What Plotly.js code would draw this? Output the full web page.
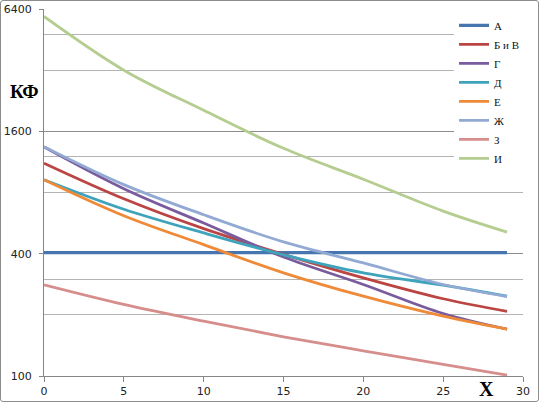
<!DOCTYPE html>
<html>
<head>
<meta charset="utf-8">
<script src="https://cdn.plot.ly/plotly-3.0.1.min.js"></script>
<style>
  html, body { margin: 0; padding: 0; background: #fff; }
  #chart { width: 537px; height: 400px; border: 1px solid #8c8c8c; border-radius: 3px; }
</style>
</head>
<body>
<div id="chart"></div>
<script>
// ---- data ----
const xValues = [0, 5, 10, 15, 20, 25, 29];
const seriesNames = ["А", "Б и В", "Г", "Д", "Е", "Ж", "З", "И"];
const valuesA   = [405, 405, 405, 405, 405, 405, 405];
const valuesBV  = [1115, 745, 531, 397, 304, 240, 208];
const valuesG   = [1340, 835, 566, 385, 282, 203, 170];
const valuesD   = [925, 662, 506, 395, 322, 280, 247];
const valuesE   = [925, 615, 443, 322, 247, 197, 170];
const valuesZh  = [1345, 875, 622, 457, 360, 282, 246];
const valuesZ   = [281, 225, 186, 156, 133, 114, 101];
const valuesI   = [5880, 3200, 2030, 1320, 930, 648, 511];
const yTickVals = [100, 400, 1600, 6400];
const yMinorVals = [200, 300, 800, 1200, 3200, 4800];
const xTickVals = [0, 5, 10, 15, 20, 25, 30];

const allValues = [valuesA, valuesBV, valuesG, valuesD, valuesE, valuesZh, valuesZ, valuesI];
const colors = ["#4675B0", "#BA4542", "#7A5C9E", "#3FA3BC", "#EE8A38", "#92AAD3", "#D68E8C", "#B5CD90"];

const traces = allValues.map((vals, i) => ({
  x: xValues,
  y: vals,
  name: seriesNames[i],
  type: "scatter",
  mode: "lines",
  line: { color: colors[i], width: i === 0 ? 3.2 : 2.8, shape: "spline", smoothing: 1 }
}));

const tickFont = { family: "DejaVu Sans", size: 11, color: "#222" };

const layout = {
  width: 539, height: 402,
  margin: { l: 43, r: 17, t: 8, b: 27 },
  paper_bgcolor: "rgba(0,0,0,0)",
  plot_bgcolor: "#fff",
  showlegend: true,
  legend: {
    x: 0.856, y: 0.995, xanchor: "left", yanchor: "top",
    bgcolor: "#fff", borderwidth: 0,
    font: { family: "Liberation Serif", size: 11, color: "#111" },
    itemwidth: 30, tracegroupgap: 0
  },
  xaxis: {
    range: [0, 30],
    tickmode: "array", tickvals: xTickVals,
    ticks: "outside", ticklen: 5, tickcolor: "#868686",
    showline: true, linecolor: "#868686", linewidth: 1,
    showgrid: false, zeroline: false,
    tickfont: tickFont
  },
  yaxis: {
    type: "log",
    range: [Math.log10(100), Math.log10(6400)],
    tickmode: "array", tickvals: yTickVals, ticktext: yTickVals.map(String),
    ticks: "outside", ticklen: 4, tickcolor: "#868686",
    ticklabelstandoff: 5,
    showline: true, linecolor: "#868686", linewidth: 1,
    showgrid: true, gridcolor: "#8c8c8c", gridwidth: 1,
    zeroline: false,
    minor: { tickmode: "array", tickvals: yMinorVals, showgrid: true, gridcolor: "#b4b4b4", gridwidth: 1, ticks: "" },
    tickfont: tickFont
  },
  annotations: [
    { text: "<b>КФ</b>", xref: "paper", yref: "paper", x: -0.006, y: 0.774,
      xanchor: "right", yanchor: "middle", showarrow: false,
      font: { family: "Liberation Serif", size: 19, color: "#000" } },
    { text: "<b>X</b>", xref: "paper", yref: "paper", x: 0.923, y: -0.035,
      xanchor: "center", yanchor: "middle", showarrow: false,
      font: { family: "Liberation Serif", size: 20, color: "#000" } }
  ]
};

Plotly.newPlot("chart", traces, layout, { displayModeBar: false, staticPlot: true });
</script>
</body>
</html>
